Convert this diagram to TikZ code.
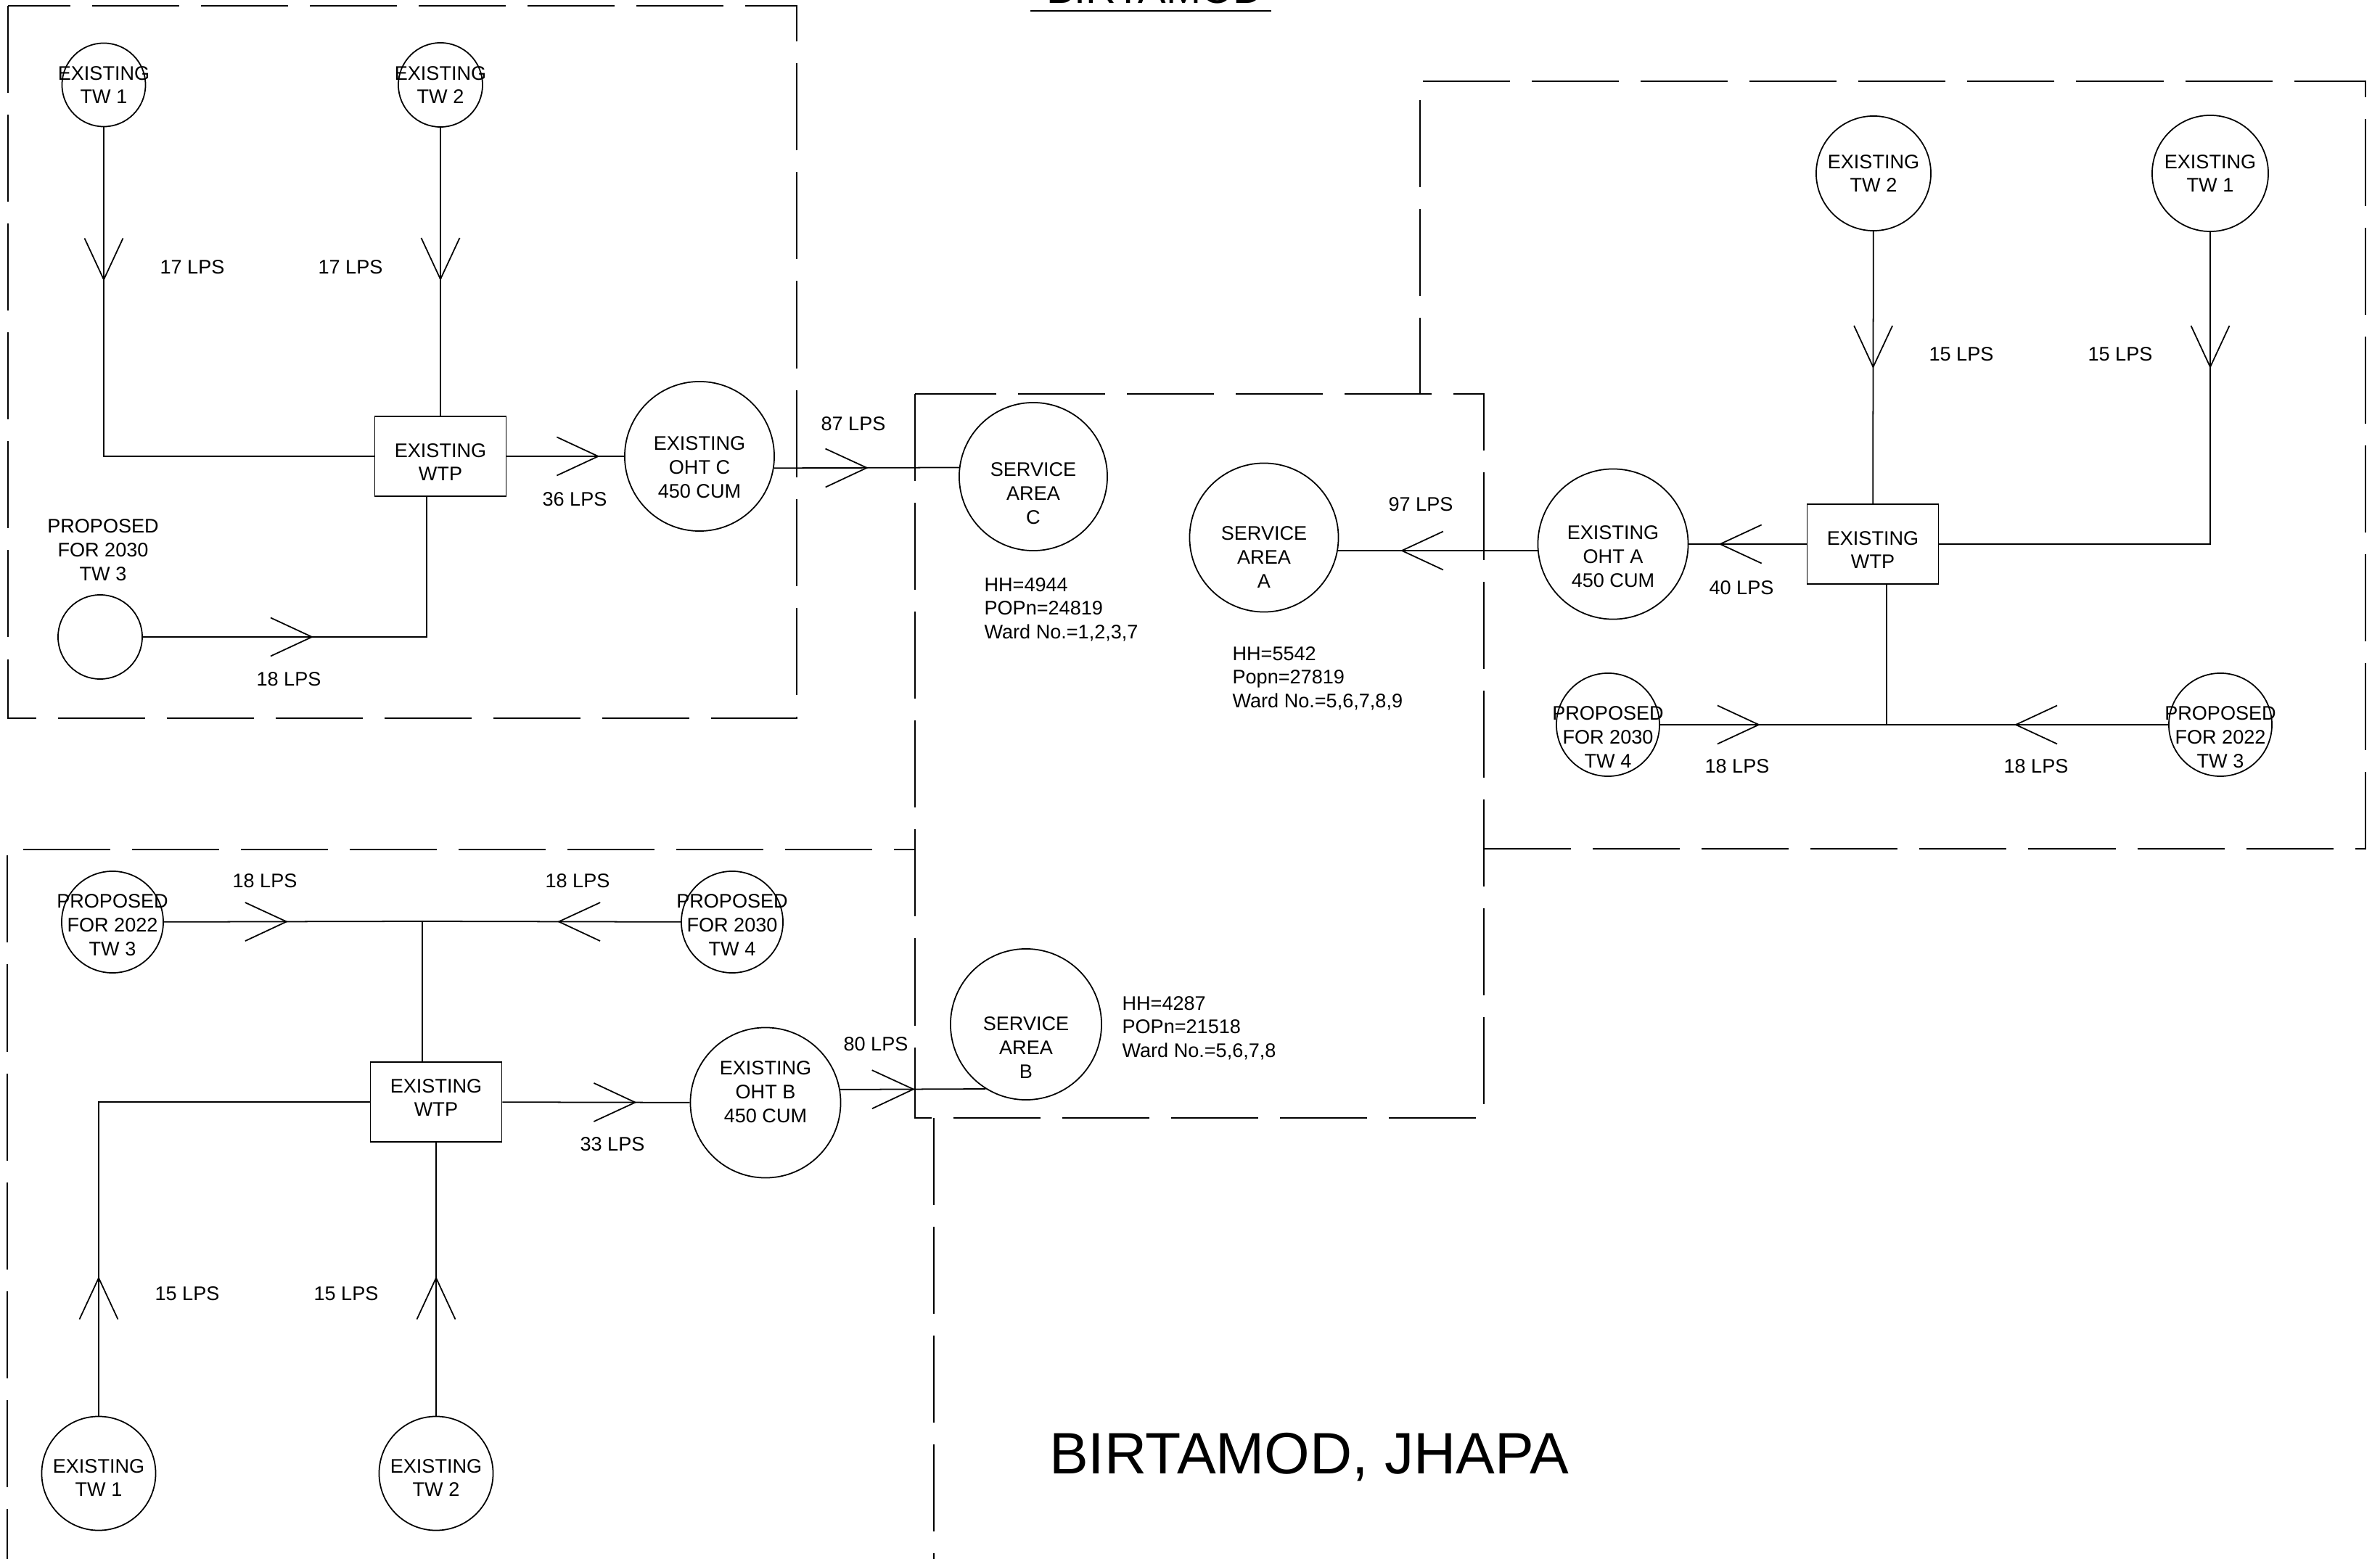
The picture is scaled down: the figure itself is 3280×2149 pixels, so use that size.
\documentclass[tikz,border=0pt]{standalone}
\usepackage{fontspec}
\setmainfont{Liberation Sans}
\usetikzlibrary{arrows.meta,decorations.markings}

\tikzset{chev/.tip={Straight Barb[length=5.7mm, width=5.3mm]}}

\begin{document}
\begin{tikzpicture}[x=0.01cm, y=-0.01cm, line width=0.5pt,
        font=\fontsize{7.7}{9.3}\selectfont,
        well/.style={draw, circle, inner sep=0pt, minimum size=#1},
        plant/.style={draw, rectangle, inner sep=0pt, minimum width=1.81cm, minimum height=1.1cm},
        tag/.style={align=center, yshift=#1},
        flow/.style={decoration={markings, mark=at position #1 with {\arrow{chev}}}, postaction={decorate}},
        info/.style={align=left, anchor=west, font=\fontsize{7.7}{9.3}\selectfont}]
        \tikzstyle{zone}=[dash pattern=on 1.2cm off 0.3cm]
        \useasboundingbox (0,0) rectangle (3280,2149);
        \clip (0,0) rectangle (3280,2149);

        % zones
        \draw[zone] (11,8) rectangle (1098,990);
        \draw[zone] (1261,543) rectangle (2045,1541);
        \draw[zone] (2045,1170) -- (3260,1170) -- (3260,112) -- (1957,112) -- (1957,543);
        \draw[zone] (10,2200) -- (10,1171) -- (1261,1171);
        \draw[zone] (1287,1541) -- (1287,2200);

        % service area C
        \node[well=1.15cm, label={[tag=0cm]center:EXISTING\\TW 1}] (c_tw1) at (143,117) {};
        \node[well=1.16cm, label={[tag=0cm]center:EXISTING\\TW 2}] (c_tw2) at (607,117) {};
        \node[well=1.16cm] (c_tw3) at (138,878) {};
        \node[align=center] (c_tw3l) at (142,758) {PROPOSED\\FOR 2030\\TW 3};
        \node[plant, label={[tag=-0.08cm]center:EXISTING\\WTP}] (c_wtp) at (607,629) {};
        \node[well=2.06cm, label={[tag=-0.15cm]center:EXISTING\\OHT C\\450 CUM}] (c_oht) at (964,629) {};
        \node[well=2.04cm, label={[tag=-0.23cm]center:SERVICE\\AREA\\C}] (sa_c) at (1424,657) {};
        \coordinate (c_in) at (588,684);

        \draw[flow=2.12cm] (c_tw1) |- (c_wtp);
        \draw[flow=2.11cm] (c_tw2) -- (c_wtp);
        \draw[flow=2.35cm] (c_tw3) -| (c_in);
        \draw[flow=1.28cm] (c_wtp) -- (c_oht);
        \draw[flow=1.30cm] (c_oht.-9.5) -- (sa_c.173.8);

        \node (c_q1) at (265,368) {17 LPS};
        \node (c_q2) at (483,368) {17 LPS};
        \node (c_q3) at (792,688) {36 LPS};
        \node (c_q4) at (398,936) {18 LPS};
        \node (c_q5) at (1176,584) {87 LPS};
        \node[info] (c_info) at (1344,840) {HH=4944\\POPn=24819\\Ward No.=1,2,3,7};

        % service area A
        \node[well=1.58cm, label={[tag=0cm]center:EXISTING\\TW 2}] (a_tw2) at (2582,239) {};
        \node[well=1.60cm, label={[tag=0cm]center:EXISTING\\TW 1}] (a_tw1) at (3046,239) {};
        \node[well=1.42cm, label={[tag=-0.17cm]center:PROPOSED\\FOR 2030\\TW 4}] (a_tw4) at (2216,999) {};
        \node[well=1.42cm, label={[tag=-0.17cm]center:PROPOSED\\FOR 2022\\TW 3}] (a_tw3) at (3060,999) {};
        \node[plant, label={[tag=-0.08cm]center:EXISTING\\WTP}] (a_wtp) at (2581,750) {};
        \node[well=2.07cm, label={[tag=-0.17cm]center:EXISTING\\OHT A\\450 CUM}] (a_oht) at (2223,750) {};
        \node[well=2.05cm, label={[tag=-0.27cm]center:SERVICE\\AREA\\A}] (sa_a) at (1742,741) {};
        \coordinate (a_jn) at (2600,999);

        \draw[flow=1.89cm] (a_tw2) -- (a_wtp);
        \draw[flow=1.88cm] (a_tw1) |- (a_wtp);
        \draw[flow=1.21cm] (a_wtp) -- (a_oht);
        \draw[flow=1.89cm] (a_oht.185.5) -- (sa_a.-10.9);
        \draw[flow=1.38cm] (a_tw4) -- (a_jn);
        \draw[flow=2.12cm] (a_tw3) -- (a_jn);
        \draw (a_jn) -- (a_jn |- a_wtp.south);

        \node (a_q1) at (2703,488) {15 LPS};
        \node (a_q2) at (2922,488) {15 LPS};
        \node (a_q3) at (2400,810) {40 LPS};
        \node (a_q4) at (2394,1056) {18 LPS};
        \node (a_q5) at (2806,1056) {18 LPS};
        \node (a_q6) at (1958,695) {97 LPS};
        \node[info] (a_info) at (1686,935) {HH=5542\\Popn=27819\\Ward No.=5,6,7,8,9};

        % service area B
        \node[well=1.40cm, label={[tag=-0.04cm]center:PROPOSED\\FOR 2022\\TW 3}] (b_tw3) at (155,1271) {};
        \node[well=1.40cm, label={[tag=-0.04cm]center:PROPOSED\\FOR 2030\\TW 4}] (b_tw4) at (1009,1271) {};
        \node[well=1.57cm, label={[tag=-0.06cm]center:EXISTING\\TW 1}] (b_tw1) at (136,2031) {};
        \node[well=1.57cm, label={[tag=-0.06cm]center:EXISTING\\TW 2}] (b_tw2) at (601,2031) {};
        \node[plant, label={[tag=0.06cm]center:EXISTING\\WTP}] (b_wtp) at (601,1519) {};
        \node[well=2.07cm, label={[tag=0.15cm]center:EXISTING\\OHT B\\450 CUM}] (b_oht) at (1055,1520) {};
        \node[well=2.08cm, label={[tag=-0.32cm]center:SERVICE\\AREA\\B}] (sa_b) at (1414,1412) {};
        \coordinate (b_jn) at (582,1270);

        \draw[flow=1.71cm] (b_tw3) -- (b_jn);
        \draw[flow=1.70cm] (b_tw4) -- (b_jn);
        \draw (b_jn) -- (b_jn |- b_wtp.north);
        \draw[flow=1.92cm] (b_tw1) |- (b_wtp);
        \draw[flow=1.92cm] (b_tw2) -- (b_wtp);
        \draw[flow=1.85cm] (b_wtp) -- (b_oht);
        \draw[flow=1.03cm] (b_oht.10.5) -- (sa_b.238.8);

        \node (b_q1) at (365,1214) {18 LPS};
        \node (b_q2) at (796,1214) {18 LPS};
        \node (b_q3) at (258,1783) {15 LPS};
        \node (b_q4) at (477,1783) {15 LPS};
        \node (b_q5) at (844,1577) {33 LPS};
        \node (b_q6) at (1207,1439) {80 LPS};
        \node[info] (b_info) at (1534,1417) {HH=4287\\POPn=21518\\Ward No.=5,6,7,8};

        % titles
        \node[anchor=base, font=\fontsize{16.4}{18}\selectfont] (head) at (1592,5) {BIRTAMOD};
        \draw[line width=0.6pt] (1420,15) -- (1752,15);
        \node[anchor=base, font=\fontsize{22.9}{26}\selectfont] (title) at (1804,2031) {BIRTAMOD, JHAPA};
    \end{tikzpicture}
\end{document}
